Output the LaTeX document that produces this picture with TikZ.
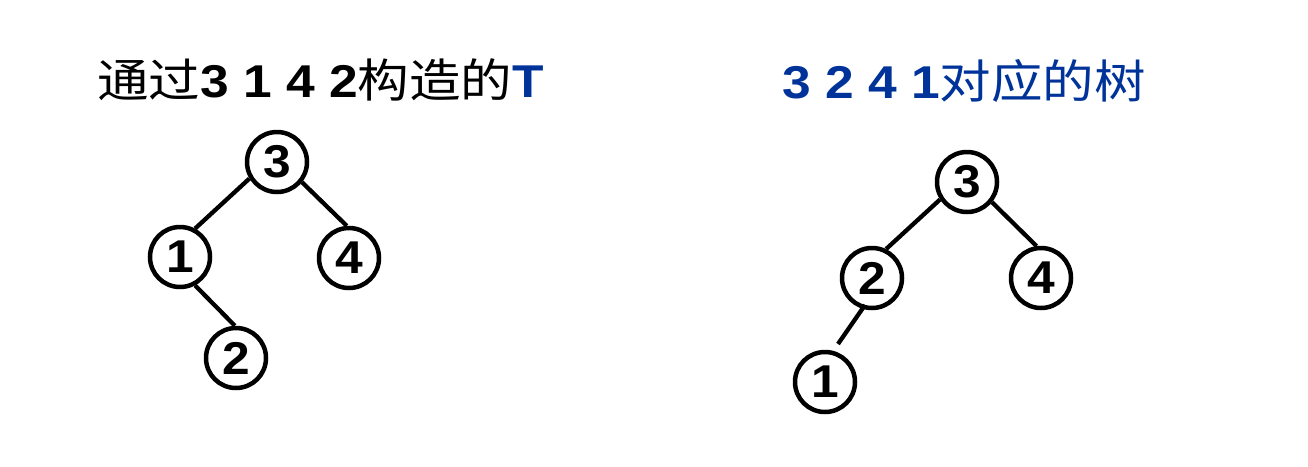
\documentclass[tikz,border=0pt]{standalone}
\usepackage{fontspec}
\usepackage{graphicx}
\setmainfont{Liberation Sans}
\newfontfamily\cjk{Noto Sans CJK SC}
\usetikzlibrary{calc}
\definecolor{titleblue}{RGB}{0,51,153}
\newcommand\hstretch[1]{\scalebox{1.08}[1]{#1}}
\newcommand\tstretch[1]{\scalebox{1.12}[1]{#1}}
\tikzset{
  treenode/.style={circle, draw=black, line width=4.5pt, minimum size=60pt, inner sep=0pt,
    font=\bfseries\fontsize{46}{46}\selectfont},
  treeedge/.style={draw=black, line width=4.3pt},
  titletext/.style={anchor=base west, inner sep=0pt, font=\fontsize{46}{46}\selectfont}
}
\begin{document}
\begin{tikzpicture}[x=1pt, y=-1pt]
\useasboundingbox (0,0) rectangle (1308,466);
% titles
\node[titletext] (lt) at (97,97) {\tstretch{{\cjk 通过}\textbf{3 1 4 2}{\cjk 构造的}\textbf{\color{titleblue}T}}};
\node[titletext, text=titleblue] (rt) at (782,98) {\tstretch{\textbf{3 2 4 1}{\cjk 对应的树}}};
% left tree
\node[treenode] (la3) at (277,162) {\hstretch{3}};
\node[treenode] (la1) at (180,257) {\hstretch{1}};
\node[treenode] (la4) at (349,258) {\hstretch{4}};
\node[treenode] (la2) at (236,358) {\hstretch{2}};
\draw[treeedge] (la3.211) -- (la1.62);
\draw[treeedge] (la3.321) -- (la4.94);
\draw[treeedge] (la1.298) -- (la2.92);
% right tree
\node[treenode] (rb3) at (967,182) {\hstretch{3}};
\node[treenode] (rb2) at (872,278) {\hstretch{2}};
\node[treenode] (rb4) at (1041,278) {\hstretch{4}};
\node[treenode] (rb1) at (825,382) {\hstretch{1}};
\draw[treeedge] (rb3.213) -- (rb2.64);
\draw[treeedge] (rb3.321) -- (rb4.98);
\draw[treeedge] ($(rb2)+(-7,27)$) -- ($(rb1)+(13,-38)$);
\end{tikzpicture}
\end{document}
